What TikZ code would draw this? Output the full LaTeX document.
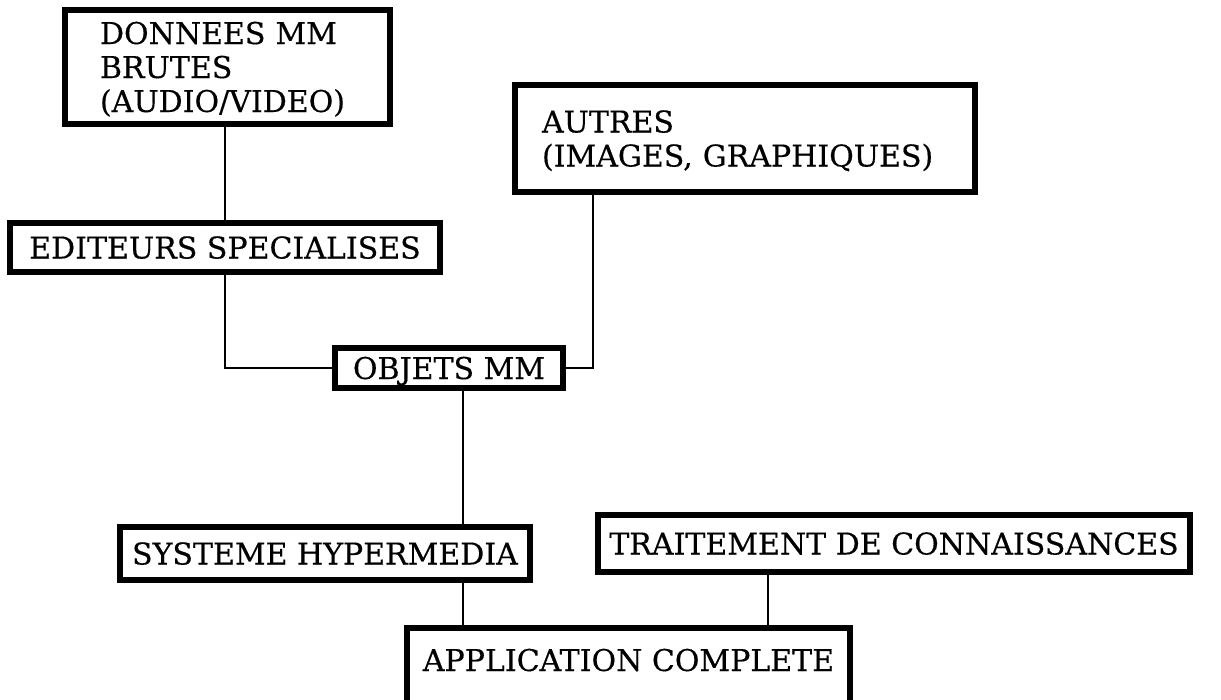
\documentclass[tikz,border=0pt]{standalone}
\usepackage{fontspec}
\setmainfont{DejaVu Serif}[FakeBold=0.4]
\usetikzlibrary{calc}
\begin{document}
\begin{tikzpicture}[x=1pt,y=-1pt,
  box/.style={draw, line width=6pt, inner sep=0pt, font=\fontsize{30}{34}\selectfont},
  one/.style={box, text height=22pt, text depth=0pt},
  link/.style={line width=2.5pt}]
\useasboundingbox (0,0) rectangle (1221,699);
\fill[white] (0,0) rectangle (1221,699);
\begin{scope}
\clip (0,0) rectangle (1221,699);
\node[box, text height=22pt, text depth=68pt, minimum height=114pt, text width=255pt, inner xsep=35pt, align=left] (B1) at (227.5,67) {DONNEES MM\\BRUTES\\(AUDIO/VIDEO)};
\node[box, text height=22pt, text depth=34pt, minimum height=107pt, text width=406pt, inner xsep=27pt, align=left] (B2) at (745,138.5) {AUTRES\\\mbox{(IMAGES, GRAPHIQUES)}};
\node[one, minimum width=430pt, minimum height=49pt] (B3) at (225,247.5) {EDITEURS SPECIALISES};
\node[one, minimum width=228pt, minimum height=40pt] (B4) at (449,368) {OBJETS MM};
\node[one, minimum width=410pt, minimum height=53pt] (B5) at (325,553.5) {SYSTEME HYPERMEDIA};
\node[one, minimum width=592pt, minimum height=57pt] (B6) at (894,543.5) {TRAITEMENT DE CONNAISSANCES};
\node[one, text depth=11pt, minimum width=443pt, minimum height=75pt] (B7) at (628.5,665.5) {APPLICATION COMPLETE};
\coordinate (vx) at (463,0);
\coordinate (vy) at (768,0);
\coordinate (vz) at (593,0);
\draw[link] (B3.north |- B1.south) -- (B3.north);
\draw[link] (B3.south) |- (B4.west);
\draw[link] (B2.south -| vz) |- (B4.east);
\draw[link] (B4.south -| vx) -- (B5.north -| vx);
\draw[link] (B5.south -| vx) -- (B7.north -| vx);
\draw[link] (B6.south -| vy) -- (B7.north -| vy);
\end{scope}
\end{tikzpicture}
\end{document}
